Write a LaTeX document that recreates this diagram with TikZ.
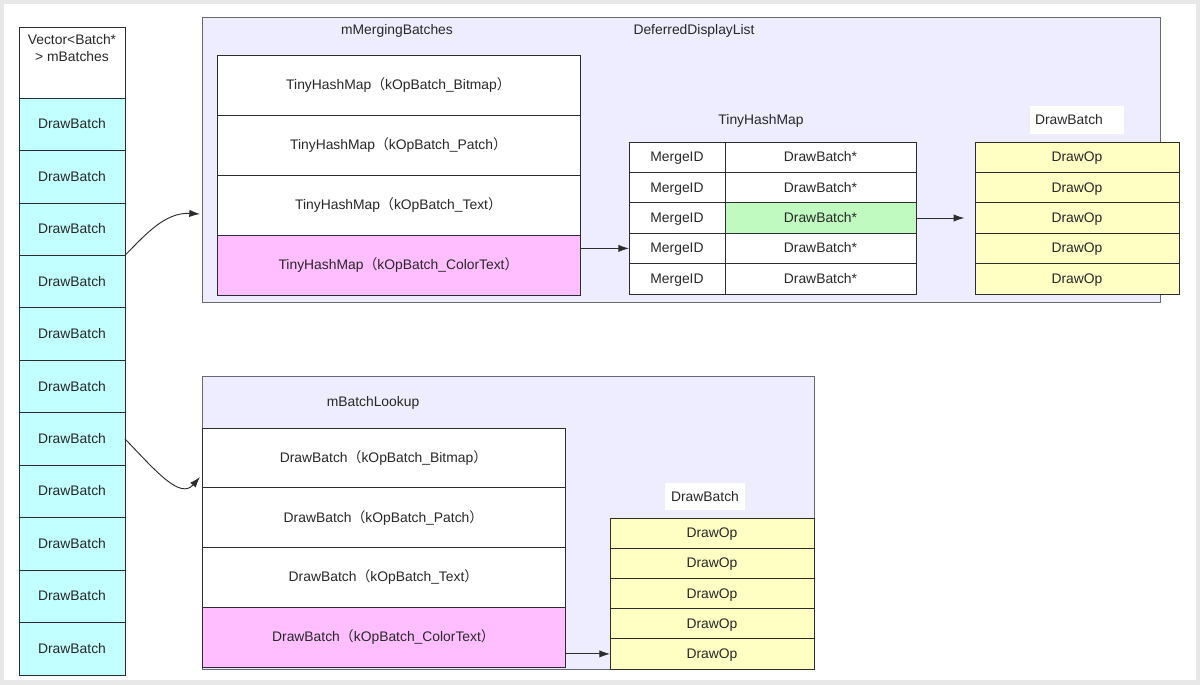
\documentclass[tikz,border=0pt]{standalone}
\usepackage{fontspec}
\setmainfont{Liberation Sans}
\newfontfamily\cjk{Noto Sans CJK SC}
\usetikzlibrary{arrows.meta}
\newcommand\lpar{{\cjk （}}
\newcommand\rpar{{\cjk ）}}
\definecolor{cyanf}{RGB}{194,255,255}
\definecolor{lav}{RGB}{238,236,255}
\definecolor{pinkf}{RGB}{255,190,255}
\definecolor{greenf}{RGB}{192,250,192}
\definecolor{yellowf}{RGB}{255,255,196}
\definecolor{linec}{RGB}{45,45,45}
\definecolor{framec}{RGB}{105,105,115}
\definecolor{textc}{RGB}{40,40,40}
\definecolor{bgband}{RGB}{232,232,232}
\begin{document}
\begin{tikzpicture}[x=0.75pt,y=-0.75pt,
  font=\fontsize{10.4}{12.5}\selectfont, text=textc,
  cell/.style 2 args={draw=linec, line width=0.6pt, inner sep=0pt, outer sep=0pt, anchor=north west,
     text height=1.6ex, text depth=0.3ex,
     minimum width=#1*0.75pt, minimum height=#2*0.75pt},
  cont/.style 2 args={draw=framec, line width=0.7pt, fill=lav, inner sep=0pt, outer sep=0pt, anchor=north west,
     minimum width=#1*0.75pt, minimum height=#2*0.75pt},
  lbl/.style={inner sep=1pt},
  whitelbl/.style 2 args={fill=white, inner sep=0pt, text height=1.6ex, text depth=0.3ex,
     minimum width=#1*0.75pt, minimum height=#2*0.75pt},
  arr/.style={draw=linec, line width=0.7pt, -{Latex[length=8pt,width=5.5pt]}}
]
\useasboundingbox (0,0) rectangle (1200,685);
\fill[bgband] (0,0) rectangle (1200,685);
\fill[white] (4,4) rectangle (1196,680);

% left column
\node[cell={106}{71}, fill=white] (hdr) at (19,27) {};
\node[lbl, align=center, anchor=north] (hdrtxt) at (72,33) {Vector<Batch*\\> mBatches};
\foreach \i in {1,...,11} {
  \node[cell={106}{52.45}, fill=cyanf] (b\i) at (19,{98+(\i-1)*52.45}) {DrawBatch};
}

% top container
\node[cont={958}{285}] (ddl) at (202,17) {};
\node[lbl] (mmtxt) at (397,31) {mMergingBatches};
\node[lbl] (ddltxt) at (694,31) {DeferredDisplayList};

\node[cell={363}{60}, fill=white] (t1) at (217,55) {TinyHashMap\lpar kOpBatch\_Bitmap\rpar};
\node[cell={363}{60}, fill=white] (t2) at (217,115) {TinyHashMap\lpar kOpBatch\_Patch\rpar};
\node[cell={363}{60}, fill=white] (t3) at (217,175) {TinyHashMap\lpar kOpBatch\_Text\rpar};
\node[cell={363}{60}, fill=pinkf] (t4) at (217,235) {TinyHashMap\lpar kOpBatch\_ColorText\rpar};

\node[lbl] (thmtxt) at (761,121) {TinyHashMap};
\foreach \i in {1,...,5} {
  \node[cell={96}{30.4}, fill=white] (h\i a) at (629,{142+(\i-1)*30.4}) {MergeID};
}
\node[cell={191}{30.4}, fill=white] (h1b) at (725,142) {DrawBatch*};
\node[cell={191}{30.4}, fill=white] (h2b) at (725,172.4) {DrawBatch*};
\node[cell={191}{30.4}, fill=greenf] (h3b) at (725,202.8) {DrawBatch*};
\node[cell={191}{30.4}, fill=white] (h4b) at (725,233.2) {DrawBatch*};
\node[cell={191}{30.4}, fill=white] (h5b) at (725,263.6) {DrawBatch*};

\node[whitelbl={94}{28}] (dbbox1) at (1077,120) {};
\node[lbl] (dbtxt1) at (1069,120) {DrawBatch};
\foreach \i in {1,...,5} {
  \node[cell={204}{30.4}, fill=yellowf] (o\i) at (975,{142+(\i-1)*30.4}) {DrawOp};
}

% bottom container
\node[cont={612}{293}] (lk) at (202,376) {};
\node[lbl] (lktxt) at (373,403) {mBatchLookup};
\node[cell={363}{59.75}, fill=white] (u1) at (202,428) {DrawBatch\lpar kOpBatch\_Bitmap\rpar};
\node[cell={363}{59.75}, fill=white] (u2) at (202,487.75) {DrawBatch\lpar kOpBatch\_Patch\rpar};
\node[cell={363}{59.75}, fill=white] (u3) at (202,547.5) {DrawBatch\lpar kOpBatch\_Text\rpar};
\node[cell={363}{59.75}, fill=pinkf] (u4) at (202,607.25) {DrawBatch\lpar kOpBatch\_ColorText\rpar};

\node[whitelbl={80}{27}] (dbtxt2) at (705,496.5) {DrawBatch};
\foreach \i in {1,...,5} {
  \node[cell={204}{30.2}, fill=yellowf] (p\i) at (610,{518+(\i-1)*30.2}) {DrawOp};
}

% connectors
\coordinate (c1) at (200,214);
\coordinate (c2) at (200,477);
\draw[arr] (b4.north east) .. controls (145,235) and (165,212) .. (c1);
\draw[arr] (b7.east) .. controls (155,470) and (180,500) .. (c2);
\draw[arr] (t4.east |- h4a.west) -- (h4a.west);
\draw[arr, shorten >=8pt] (h3b.east) -- (o3.west);
\draw[arr] (u4.east |- p5.west) -- (p5.west);
\end{tikzpicture}
\end{document}
